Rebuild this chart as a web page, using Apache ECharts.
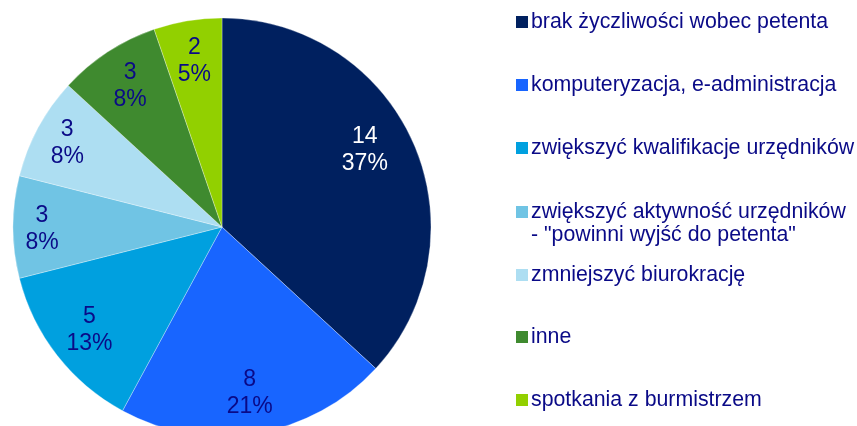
<!DOCTYPE html>
<html>
<head>
<meta charset="utf-8">
<script src="https://cdn.jsdelivr.net/npm/echarts@6/dist/echarts.min.js"></script>
<style>
  html, body { margin: 0; padding: 0; background: #fff; }
  #chart { width: 857px; height: 426px; }
</style>
</head>
<body>
<div id="chart"></div>
<script>
// categories and counts
const categories = [
  'brak życzliwości wobec petenta',
  'komputeryzacja, e-administracja',
  'zwiększyć kwalifikacje urzędników',
  'zwiększyć aktywność urzędników - "powinni wyjść do petenta"',
  'zmniejszyć biurokrację',
  'inne',
  'spotkania z burmistrzem'
];
const counts = [14, 8, 5, 3, 3, 3, 2];
const colors = ['#00205f', '#1865ff', '#00a0df', '#70c4e4', '#addef2', '#3f8a2f', '#92d000'];

const textColor = '#0a0a87';
const font = 'Liberation Sans, Arial, sans-serif';

// small nudges for a few slice labels
const labelOffsets = [[-11, -9], [0, 0], [0, 0], [-12, 2], [-7, -4], [0, 0], [0, 0]];

const chart = echarts.init(document.getElementById('chart'));

const pieData = categories.map((name, i) => ({
  name,
  value: counts[i],
  itemStyle: { color: colors[i] }
}));

// labels ride on a transparent ring so they sit out towards the rim
const labelData = categories.map((name, i) => ({
  name,
  value: counts[i],
  itemStyle: { color: 'transparent' },
  label: {
    color: i === 0 ? '#ffffff' : textColor,
    offset: labelOffsets[i]
  }
}));

// one legend per entry, so the two-line one can keep the same spacing
const legendCenters = [22, 85, 148, 212, 275, 337, 400];
const legends = categories.map((name, i) => {
  const twoLine = i === 3;
  return {
    orient: 'vertical',
    left: 516,
    top: twoLine ? legendCenters[i] - 34.5 : legendCenters[i] - 11.5,
    padding: 0,
    itemWidth: 12,
    itemHeight: 12,
    itemGap: 0,
    icon: 'rect',
    selectedMode: false,
    itemStyle: { borderWidth: 0 },
    data: [{ name }],
    // blank first line keeps the icon level with the first text line
    formatter: n => (twoLine ? '\n' + n.replace(' - "', '\n- "') : n),
    textStyle: {
      fontFamily: font,
      fontSize: 21.3,
      lineHeight: 23,
      color: textColor,
      padding: [0, 0, 0, -2]
    }
  };
});

chart.setOption({
  animation: false,
  legend: legends,
  series: [
    {
      type: 'pie',
      center: [222, 227],
      radius: 209,
      startAngle: 90,
      silent: true,
      label: { show: false },
      labelLine: { show: false },
      itemStyle: { borderColor: 'rgba(255,255,255,0.6)', borderWidth: 0.5 },
      data: pieData
    },
    {
      type: 'pie',
      center: [222, 227],
      radius: [121, 209],
      startAngle: 90,
      silent: true,
      legendHoverLink: false,
      label: {
        show: true,
        position: 'inside',
        fontFamily: font,
        fontSize: 23,
        lineHeight: 27,
        formatter: p => p.value + '\n' + Math.round(p.percent) + '%'
      },
      labelLine: { show: false },
      data: labelData
    }
  ]
});
</script>
</body>
</html>
